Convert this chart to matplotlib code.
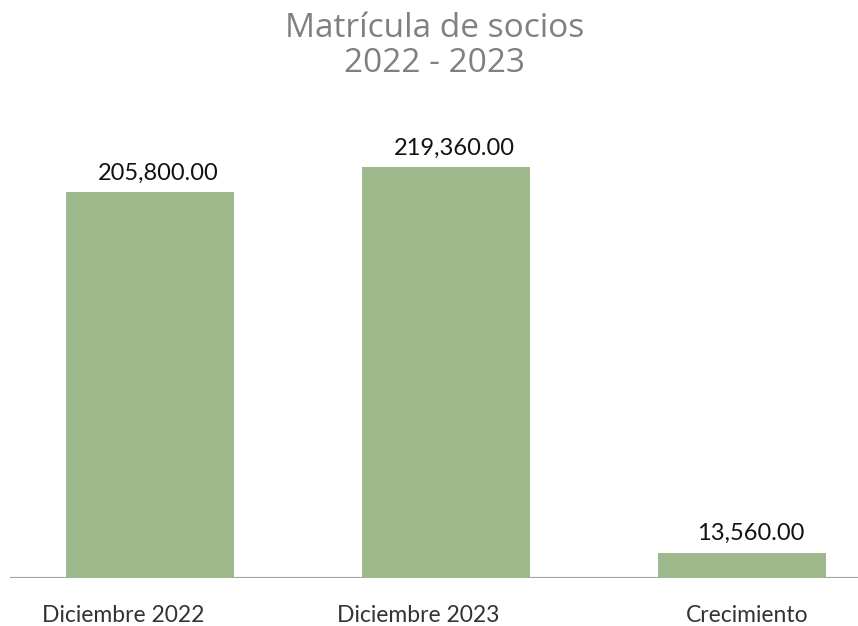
import matplotlib
matplotlib.use("Agg")
import matplotlib.pyplot as plt

categories = ["Diciembre 2022", "Diciembre 2023", "Crecimiento"]
values = [205800.00, 219360.00, 13560.00]
title_lines = ["Matrícula de socios", "2022 - 2023"]

W, H = 858, 626
fig = plt.figure(figsize=(W / 100, H / 100), dpi=100)
ax = fig.add_axes([10 / W, (H - 578) / H, 1 - 10 / W, (578 - 120) / H])

x = list(range(len(categories)))
ax.bar(x, values, width=0.57, color="#9db88a", zorder=3)
ax.axhline(0, color="#a6a6a6", lw=1.6, zorder=2)
ax.set_xlim(-0.473, 2.392)
ax.set_ylim(0, 219360 * 458 / 411)

for xi, v in zip(x, values):
    ax.annotate(f"{v:,.2f}", (xi, v), xytext=(6, 9), textcoords="offset points",
                ha="center", va="baseline", fontsize=17, family="Lato", color="#111111")

label_dx = [-19, -20, 4]
for xi, lab, dx in zip(x, categories, label_dx):
    ax.annotate(lab, (xi, 0), xytext=(dx, -32), textcoords="offset points",
                ha="center", va="baseline", fontsize=16.5, family="Lato",
                color="#333333")
ax.set_xticks([])
ax.set_yticks([])
for s in ax.spines.values():
    s.set_visible(False)

fig.text(0.5 + 6 / W, 1 - 37 / H, title_lines[0], ha="center", va="baseline",
         fontsize=24, family="Open Sans", color="#808080")
fig.text(0.5 + 6 / W, 1 - 72 / H, title_lines[1], ha="center", va="baseline",
         fontsize=24, family="Open Sans", color="#808080")

fig.savefig("out.png", dpi=100)
